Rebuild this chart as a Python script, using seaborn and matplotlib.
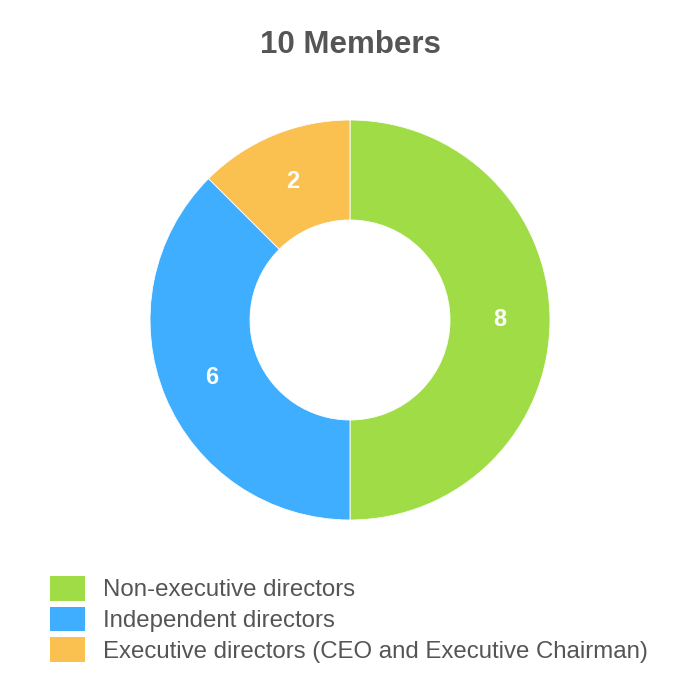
import matplotlib
matplotlib.use("Agg")
import matplotlib.pyplot as plt
import seaborn as sns
from matplotlib.patches import Patch

# ======= data =======
categories = ['Non-executive directors', 'Independent directors',
              'Executive directors (CEO and Executive Chairman)']
values = [8, 6, 2]
title = '10 Members'

sns.set_theme(style="white")
plt.rcParams['font.family'] = ['Liberation Sans', 'DejaVu Sans']
colors = sns.color_palette(['#a0dc46', '#40aefe', '#fac050'])
text_gray = '#555555'

fig = plt.figure(figsize=(7, 7), dpi=100)
r = 200 / 700
cx, cy = 0.5, 1 - 320 / 700
ax = fig.add_axes([cx - r, cy - r, 2 * r, 2 * r])

wedges, _, autotexts = ax.pie(
    values, colors=colors, startangle=90, counterclock=False, radius=1,
    autopct=lambda p: f'{round(p * sum(values) / 100)}', pctdistance=0.75,
    wedgeprops=dict(width=0.5, edgecolor='white', linewidth=0.6),
    textprops=dict(color='white', fontsize=17, fontweight='bold'))
ax.set_xlim(-1, 1)
ax.set_ylim(-1, 1)
ax.set_aspect('equal')
ax.axis('off')

fig.text(0.5, 1 - 45 / 700, title, ha='center', va='center',
         fontsize=22.5, fontweight='bold', color=text_gray)

handles = [Patch(facecolor=c, edgecolor='none') for c in colors]
leg = fig.legend(handles, categories, loc='upper left',
                 bbox_to_anchor=(50 / 700, 1 - 576 / 700), frameon=False,
                 fontsize=17.3, handlelength=1.45, handleheight=1.2,
                 handletextpad=0.75, labelspacing=0.22, borderpad=0,
                 borderaxespad=0)
for t in leg.get_texts():
    t.set_color(text_gray)

plt.savefig('out.png', dpi=100)
plt.close()
